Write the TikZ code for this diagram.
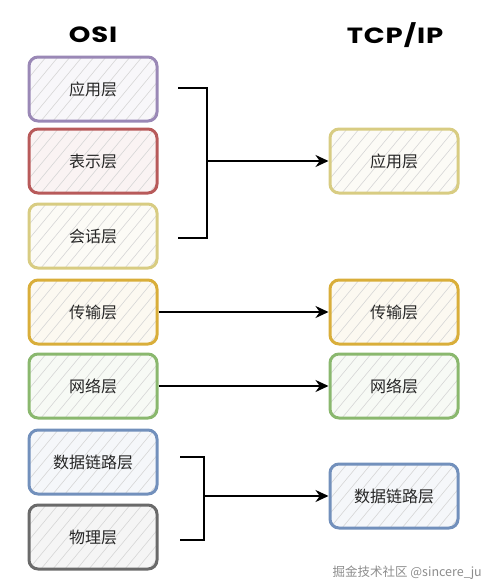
\documentclass[tikz,border=0pt]{standalone}
\usepackage{fontspec}
\newfontfamily\cjk{Noto Sans CJK SC}
\newfontfamily\titlefont[FakeStretch=1.25,LetterSpace=4]{Poppins Bold}
\usetikzlibrary{arrows.meta}
\definecolor{cPurple}{HTML}{9A88B6}
\definecolor{cRed}{HTML}{B85A5A}
\definecolor{cYellow}{HTML}{D8CC82}
\definecolor{cGold}{HTML}{D9AE3A}
\definecolor{cGreen}{HTML}{8AB86E}
\definecolor{cBlue}{HTML}{7290BC}
\definecolor{cGray}{HTML}{6A6A6A}
\tikzset{
  lay/.style={draw=#1, fill=#1!7, line width=3pt, rounded corners=9pt,
    minimum width=128pt, minimum height=64pt, inner sep=0pt,
    font=\cjk\fontsize{16}{18}\selectfont, text=black!85,
    path picture={\foreach \k in {-7,...,12}{
      \draw[black!16, line width=0.6pt]
        ([xshift=\k*12pt]path picture bounding box.south west) -- ++(58pt,70pt);}}},
  ttl/.style={font=\titlefont\fontsize{22}{26}\selectfont},
  arr/.style={line width=2pt, -{Stealth[length=13pt,width=12pt]}},
  brk/.style={line width=2.1pt}
}
\begin{document}
\begin{tikzpicture}[x=1pt,y=-1pt]
\useasboundingbox (0,0) rectangle (485,587);
\node[ttl] (osi) at (93,35) {OSI};
\node[ttl] (tcp) at (395,35) {TCP/IP};
% left column
\node[lay=cPurple] (l1) at (93,89) {应用层};
\node[lay=cRed] (l2) at (93,161) {表示层};
\node[lay=cYellow] (l3) at (93,236) {会话层};
\node[lay=cGold] (l4) at (93,312) {传输层};
\node[lay=cGreen] (l5) at (93,386) {网络层};
\node[lay=cBlue] (l6) at (93,462) {数据链路层};
\node[lay=cGray] (l7) at (93,537) {物理层};
% right column
\node[lay=cYellow] (r1) at (394,161) {应用层};
\node[lay=cGold] (r2) at (394,312) {传输层};
\node[lay=cGreen] (r3) at (394,386) {网络层};
\node[lay=cBlue] (r4) at (394,496) {数据链路层};
% bracket 1
\coordinate (a1) at (178,88);
\coordinate (a2) at (207,88);
\coordinate (a3) at (207,238);
\coordinate (a4) at (178,238);
\coordinate (am) at (207,161);
\draw[brk] (a1) -- (a2) -- (a3) -- (a4);
\draw[arr] (am) -- (r1.west);
% direct arrows
\draw[arr] (l4.east) -- (r2.west);
\draw[arr] (l5.east) -- (r3.west);
% bracket 2
\coordinate (b1) at (180,457);
\coordinate (b2) at (204,457);
\coordinate (b3) at (204,540);
\coordinate (b4) at (180,540);
\coordinate (bm) at (204,496);
\draw[brk] (b1) -- (b2) -- (b3) -- (b4);
\draw[arr] (bm) -- (r4.west);
% watermark
\node[anchor=east, font=\cjk\fontsize{12.5}{14}\selectfont, text=black!45, inner sep=0pt] (wm) at (482,573) {掘金技术社区 @sincere\_ju};
\end{tikzpicture}
\end{document}
